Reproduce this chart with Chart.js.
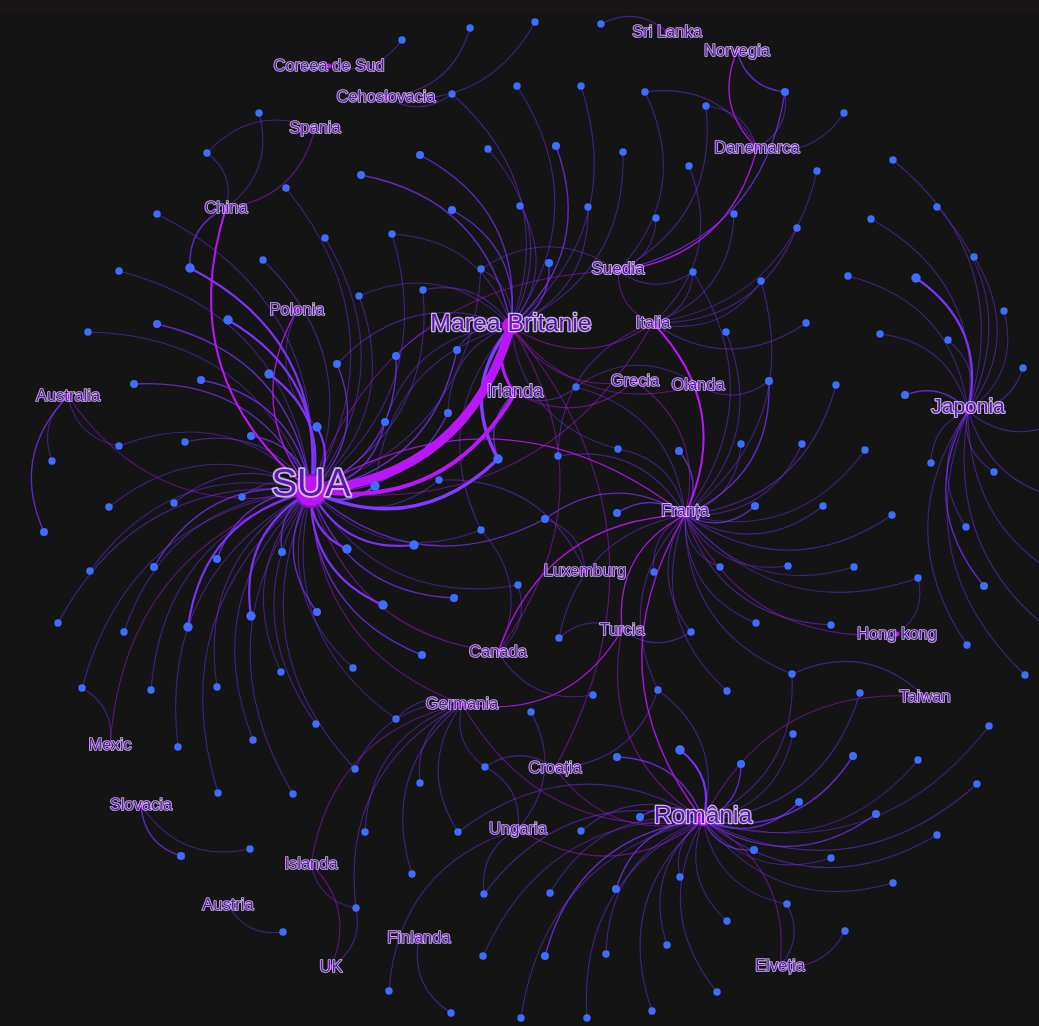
<!DOCTYPE html>
<html>
<head>
<meta charset="utf-8">
<title>Retea</title>
<script src="https://cdn.jsdelivr.net/npm/chart.js@4/dist/chart.umd.min.js"></script>
<style>
  html, body { margin: 0; padding: 0; background: linear-gradient(#191515 12px, #141414 12px); overflow: hidden; }
  #chart { display: block; }
</style>
</head>
<body>
<canvas id="chart" width="1039" height="1026"></canvas>
<script>
// Countries
const hubKeys = ["SUA","MB","RO","FR","JP","DE","IE","SE","IT","DK","NO","CS","CN","ES","PL","AU","GR","NL","LU","TR","HK","CA","TW","MX","HR","SK","HU","IS","AT","FI","CH","UK","KR","LK"];
const hubNames = ["SUA","Marea Britanie","România","Franța","Japonia","Germania","Irlanda","Suedia","Italia","Danemarca","Norvegia","Cehoslovacia","China","Spania","Polonia","Australia","Grecia","Olanda","Luxemburg","Turcia","Hong kong","Canada","Taiwan","Mexic","Croația","Slovacia","Ungaria","Islanda","Austria","Finlanda","Elveția","UK","Coreea de Sud","Sri Lanka"];
const hubX = [311,511,703,685,968,462,515,618,653,757,737,386,226,315,297,68,635,698,585,622,897,498,925,110,555,141,518,311,228,419,780,331,329,667];
const hubY = [491,326,820,515,411,704,393,271,323,148,51,97,208,128,310,396,381,385,571,630,634,652,697,745,768,805,829,864,905,938,966,967,66,32];

// Country to country links (direction sets the side of the bend)
const hubLinkFrom = ["CN","CN","AU","PL","SUA","SUA","SUA","FR","SE","SUA","SUA","SUA","MB","SE","NO","MB","MB","HR","CA","IE","FR","FR","FR","FR","FR","DE","DE","UK","HR","DE","HU","TR","TW","CH","FR","SE","MB"];
const hubLinkTo = ["SUA","ES","SUA","SUA","MX","CA","DE","SUA","SUA","IT","MB","IE","IE","DK","DK","GR","NL","MB","MB","GR","IT","GR","CA","TR","RO","TR","IS","IS","RO","RO","RO","RO","RO","RO","HK","IT","IT"];
const hubLinkWeight = [2,1,1,1.5,1,1,1,1.5,1,1,9,4,3,1.5,1.5,1,1,1,1,1,2,1,1.5,1.5,1.5,1.5,1,1,1,1,1,1,1,1,1,1,1];

// Blue nodes
const leafX = [
  259,207,286,325,157,263,190,119,228,157,
  88,134,201,269,337,317,251,185,119,52,
  242,174,109,44,282,217,347,154,90,251,
  317,58,124,188,281,217,151,82,178,253,
  218,293,316,353,402,470,535,601,452,517,
  581,645,420,488,556,623,689,361,520,588,
  452,656,392,481,549,693,359,423,706,785,
  844,817,893,734,797,937,871,974,761,848,
  916,1004,806,880,948,726,396,457,448,385,
  576,498,558,618,679,375,439,617,545,481,
  414,518,654,454,383,559,691,422,769,836,
  905,1023,741,802,865,931,994,755,823,892,
  966,788,854,720,918,984,756,831,967,792,
  1025,1062,1080,1090,1080,396,355,531,593,658,
  727,860,989,793,617,680,741,853,918,977,
  420,485,365,458,799,876,640,581,937,754,
  831,412,484,550,616,680,893,787,727,845,
  356,483,545,606,667,389,451,521,587,652,
  717,250,181,283
];
const leafY = [
  113,153,188,238,214,260,268,271,320,324,
  332,384,380,374,364,427,436,442,446,461,
  497,503,507,532,552,559,549,567,571,616,
  612,623,632,627,672,687,690,688,747,740,
  793,794,724,668,40,28,22,24,94,86,
  86,92,155,149,146,152,166,175,206,207,
  210,218,234,269,263,272,296,290,106,92,
  113,171,160,214,228,207,219,257,281,276,
  278,311,323,334,340,332,356,350,413,422,
  387,459,456,449,451,486,480,513,519,530,
  545,585,572,598,605,638,632,655,381,385,
  395,368,444,444,450,463,472,506,506,515,
  527,566,567,567,578,586,623,625,645,674,
  675,420,500,590,650,719,769,712,695,690,
  691,693,726,734,757,750,764,756,760,784,
  783,767,832,832,802,814,817,831,835,850,
  858,874,894,893,889,877,883,904,921,931,
  908,956,956,954,945,991,1013,1018,1018,1011,
  992,849,856,932
];
// Which countries each blue node hangs from, hub:weight
const leafLinks = [
  "CN","CN ES","SUA","SUA","SUA","SUA","CN:2 SUA:3","SUA","SUA:3","SUA:2",
  "SUA","SUA:2","SUA:2","SUA:3","SUA:2 MB","SUA:3 PL","SUA:2","SUA","SUA AU","AU",
  "SUA","SUA","SUA","AU:2","SUA:2","SUA:2","SUA:3","SUA:2","SUA","SUA:3",
  "SUA:2","SUA","SUA","SUA:3","SUA","SUA","SUA","SUA MX","SUA","SUA",
  "SUA","SUA","SUA","SUA","KR","CS","CS","LK","CS MB","MB",
  "MB","SE DK","MB:2","MB","MB:2","MB","IT","MB:2","MB","MB",
  "MB:2","SE","MB SUA","MB SUA SE","MB:2","SE IT FR","MB SUA","MB SUA","DK SE","NO:2 DK SE:2",
  "DK","IT","JP","IT","IT","JP","JP","JP","IT FR","JP",
  "JP:3","JP","IT","JP","JP","FR","SUA:2 MB","SUA:2 MB","SUA:2 MB","SUA:2 MB",
  "NL IE FR","SUA:4 MB:4 IE:2","IT FR","MB FR","FR:2","SUA:3 MB","SUA LU","FR:2","SUA:2 FR:2 LU","SUA MB CA",
  "SUA:3","SUA CA","FR","SUA:2","SUA:3","FR TR","FR TR","SUA:2","FR:2 NL","FR",
  "JP:2","JP","FR","FR","FR","JP","JP","FR:2","FR","FR",
  "JP","FR","FR","FR","FR HK","JP:2","FR","FR","JP","FR RO TW",
  "JP","JP","JP","JP","JP","SUA DE","SUA DE","HU","CA","HR RO FR",
  "FR","RO","RO","RO","RO:2","RO:3","RO:2","RO:2","RO","RO",
  "DE","DE HR HU","DE","DE RO","RO:2","RO:2","RO:2","RO","RO","RO:2",
  "RO","DE","HU RO","RO","RO:2","RO","RO","RO CH","RO","CH",
  "DE IS UK","RO","RO:2","RO","RO","HU","FI","RO","RO","RO",
  "RO","SK","SK:2","AT"
];

// Look of the big labels and dots, everything else uses the default
const hubLook = {
  SUA: { font: 38.5, dot: 16, halo: 3.6, rise: 5.5 },
  MB: { font: 24.8, dot: 9, halo: 2.6, rise: 2 },
  RO: { font: 24.5, dot: 6, halo: 2.6, rise: 4 },
  JP: { font: 21, dot: 3.5, halo: 2.2, rise: 4 },
  IE: { font: 18.5, dot: 2.5, halo: 1.8, rise: 0.7 },
  SE: { font: 17, dot: 2.5, halo: 1.8, rise: 1.4 },
  FR: { font: 16.5, dot: 2.5, halo: 1.8, rise: 3.3 },
};
const defaultLook = { font: 16.5, dot: 2.5, halo: 1.7, rise: 0 };
const lookOf = (key) => hubLook[key] || defaultLook;

const bendAmount = 0.34;

function parseLinks(text) {
  return text.split(" ").map((part) => {
    const [hub, weight] = part.split(":");
    return { hub: hub, weight: Number(weight || 1) };
  });
}

const leafWeights = leafLinks.map((text) => Math.max(...parseLinks(text).map((l) => l.weight)));

function violetStyle(weight) {
  if (weight >= 4) return { width: 3.4, color: "rgba(130, 60, 255, 1)" };
  if (weight === 3) return { width: 2.2, color: "rgba(125, 55, 255, 0.95)" };
  if (weight === 2) return { width: 1.4, color: "rgba(122, 51, 255, 0.72)" };
  return { width: 1.1, color: "rgba(122, 51, 255, 0.46)" };
}

function magentaStyle(weight) {
  if (weight >= 2) return { width: weight, color: "rgba(185, 23, 250, 1)" };
  if (weight >= 1.5) return { width: 1.4, color: "rgba(185, 23, 245, 0.85)" };
  return { width: 1.1, color: "rgba(175, 23, 235, 0.48)" };
}

function drawCurve(ctx, scales, x1, y1, x2, y2, style) {
  const ax = scales.x.getPixelForValue(x1);
  const ay = scales.y.getPixelForValue(y1);
  const bx = scales.x.getPixelForValue(x2);
  const by = scales.y.getPixelForValue(y2);
  // Every edge bends to the right of its direction of travel
  const cx = (ax + bx) / 2 - (by - ay) * bendAmount;
  const cy = (ay + by) / 2 + (bx - ax) * bendAmount;
  ctx.beginPath();
  ctx.moveTo(ax, ay);
  ctx.quadraticCurveTo(cx, cy, bx, by);
  ctx.lineWidth = style.width;
  ctx.strokeStyle = style.color;
  ctx.stroke();
}

// Curved edges go under the points
const edgePlugin = {
  id: "edges",
  beforeDatasetsDraw(chart) {
    const ctx = chart.ctx;
    ctx.save();
    ctx.lineCap = "butt";
    leafLinks.forEach((text, i) => {
      parseLinks(text)
        .sort((a, b) => a.weight - b.weight)
        .forEach((link) => {
          const h = hubKeys.indexOf(link.hub);
          drawCurve(ctx, chart.scales, hubX[h], hubY[h], leafX[i], leafY[i], violetStyle(link.weight));
        });
    });
    hubLinkFrom.forEach((from, i) => {
      const a = hubKeys.indexOf(from);
      const b = hubKeys.indexOf(hubLinkTo[i]);
      drawCurve(ctx, chart.scales, hubX[a], hubY[a], hubX[b], hubY[b], magentaStyle(hubLinkWeight[i]));
    });
    ctx.restore();
  },
};

// Country names on top of everything
const labelPlugin = {
  id: "hubLabels",
  afterDatasetsDraw(chart) {
    const ctx = chart.ctx;
    ctx.save();
    ctx.textAlign = "center";
    ctx.textBaseline = "middle";
    ctx.lineJoin = "round";
    hubNames.forEach((name, i) => {
      const look = lookOf(hubKeys[i]);
      const x = chart.scales.x.getPixelForValue(hubX[i]);
      const y = chart.scales.y.getPixelForValue(hubY[i]) - look.rise;
      ctx.font = `${look.font}px "Liberation Sans", Arial, sans-serif`;
      ctx.lineWidth = look.halo;
      ctx.strokeStyle = "rgba(235, 225, 255, 0.8)";
      ctx.strokeText(name, x, y);
      ctx.fillStyle = "#5a14b4";
      ctx.fillText(name, x, y);
    });
    ctx.restore();
  },
};

new Chart(document.getElementById("chart").getContext("2d"), {
  type: "scatter",
  data: {
    datasets: [
      {
        label: "Noduri",
        data: leafX.map((x, i) => ({ x: x, y: leafY[i] })),
        backgroundColor: "#3f6dff",
        borderWidth: 0,
        pointRadius: leafWeights.map((w) => (w >= 3 ? 4.7 : w === 2 ? 4 : 3.7)),
      },
      {
        label: "Țări",
        data: hubX.map((x, i) => ({ x: x, y: hubY[i] })),
        backgroundColor: "#b915f5",
        borderColor: "#8a12bd",
        borderWidth: hubKeys.map((k) => (k === "SUA" ? 2 : 0)),
        pointRadius: hubKeys.map((k) => lookOf(k).dot),
      },
    ],
  },
  options: {
    responsive: false,
    animation: false,
    layout: { padding: 0, autoPadding: false },
    plugins: { legend: { display: false }, tooltip: { enabled: false } },
    scales: {
      x: { type: "linear", min: 0, max: 1039, display: false },
      y: { type: "linear", min: 0, max: 1026, reverse: true, display: false },
    },
  },
  plugins: [edgePlugin, labelPlugin],
});
</script>
</body>
</html>
